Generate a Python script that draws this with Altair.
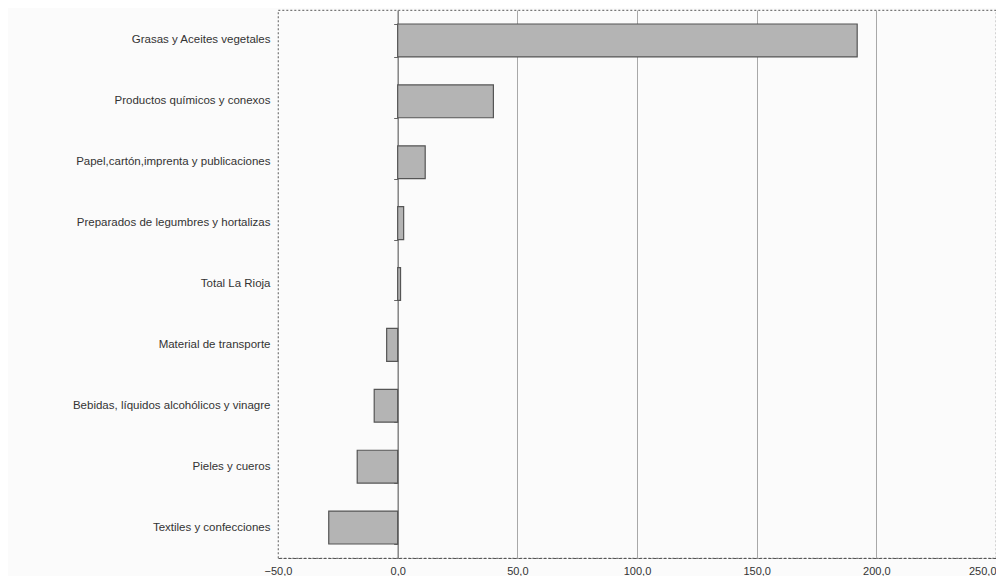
import altair as alt
import pandas as pd

categories = [
    "Grasas y Aceites vegetales",
    "Productos químicos y conexos",
    "Papel,cartón,imprenta y publicaciones",
    "Preparados de legumbres y hortalizas",
    "Total La Rioja",
    "Material de transporte",
    "Bebidas, líquidos alcohólicos y vinagre",
    "Pieles y cueros",
    "Textiles y confecciones",
]
values = [192.0, 40.0, 11.5, 2.5, 1.2, -4.6, -9.8, -16.9, -28.8]
x_ticks = [-50, 0, 50, 100, 150, 200, 250]

df = pd.DataFrame({"cat": categories, "val": values})

FONT = "Liberation Sans"
PLOT_W = 718

bars = alt.Chart(df).mark_bar(
    fill="#b4b4b4", stroke="#555555", strokeWidth=1.2
).encode(
    y=alt.Y("cat:N", sort=categories, title=None,
            scale=alt.Scale(paddingInner=0.46, paddingOuter=0.23),
            axis=alt.Axis(orient="left", ticks=False, domain=False, labelFont=FONT,
                          labelFontSize=11.5, labelColor="#333333",
                          labelPadding=8, labelLimit=400)),
    x=alt.X("val:Q", title=None,
            scale=alt.Scale(domain=[-50, 250], nice=False, zero=False),
            axis=alt.Axis(values=x_ticks, ticks=False,
                          labelExpr="replace(format(datum.value, '.1f'), '.', ',')",
                          labelFont=FONT, labelFontSize=11, labelColor="#333333",
                          labelPadding=7, labelFlush=False,
                          labelAlign={"condition": {"test": "datum.value == 250", "value": "right"}, "value": "center"},
                          domainColor="#555555", domainDash=[3, 2], domainWidth=1.2,
                          grid=True, gridColor={"condition": {"test": "datum.value == -50 || datum.value == 250 || datum.value == 0", "value": "transparent"}, "value": "#a8a8a8"},
                          gridWidth=1)),
)

zero = alt.Chart(df).mark_rule(color="#666666", strokeWidth=0).encode(
    y=alt.Y("cat:N", sort=categories, title=None,
            scale=alt.Scale(paddingInner=0.46, paddingOuter=0.23),
            axis=alt.Axis(orient="left", labels=False, ticks=True, tickBand="extent", tickSize=4,
                          tickColor="#666666", domain=True, domainColor="#666666",
                          domainWidth=1.2, offset=-PLOT_W / 6, grid=False)),
    x=alt.X("val:Q"),
)

chart = alt.layer(bars, zero).resolve_axis(y="independent").properties(
    width=PLOT_W, height=548,
    autosize=alt.AutoSizeParams(type="none"),
    padding={"left": 270, "top": 2, "right": 0, "bottom": 18},
    background="#fbfbfb",
).configure_view(
    stroke="#777777", strokeDash=[2, 2], strokeWidth=1.2
)

chart.save("out.html", embed_options={"renderer": "svg", "actions": False})
